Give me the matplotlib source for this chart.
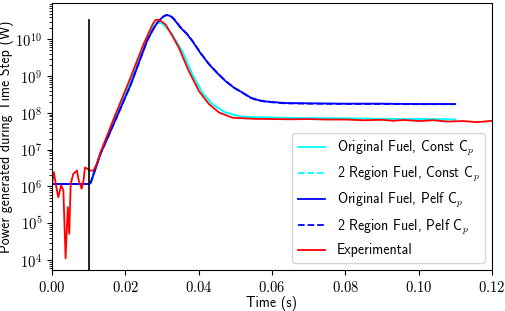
import math
import matplotlib
matplotlib.use("Agg")
from matplotlib import pyplot as plt
from matplotlib.ticker import FuncFormatter, LogLocator, NullFormatter

plt.rcParams['mathtext.fontset'] = 'cm'
plt.rcParams['axes.unicode_minus'] = False

# time (s) and power (W)
t_pelf = [0.0, 0.0102, 0.0106, 0.0132, 0.0168, 0.0214, 0.0259, 0.0275, 0.0287, 0.0297,
          0.0305, 0.0312, 0.0320, 0.0328, 0.0337, 0.0350, 0.0369, 0.0383, 0.0405, 0.0428,
          0.0451, 0.0474, 0.0497, 0.0520, 0.0542, 0.0561, 0.0584, 0.0634, 0.070, 0.080,
          0.090, 0.100, 0.110]
p_pelf_orig = [1.17e6, 1.17e6, 1.3e6, 7.6e6, 4.9e7, 5.6e8, 8.9e9, 1.8e10, 2.8e10, 3.6e10,
               4.2e10, 4.5e10, 4.4e10, 3.9e10, 3.1e10, 2.1e10, 1.35e10, 8.9e9, 4.2e9, 2.1e9,
               1.2e9, 7.2e8, 4.8e8, 3.55e8, 2.6e8, 2.24e8, 2.04e8, 1.86e8, 1.82e8, 1.78e8,
               1.78e8, 1.74e8, 1.74e8]
p_pelf_2reg = [1.17e6, 1.17e6, 1.3e6, 7.6e6, 4.9e7, 5.6e8, 8.9e9, 1.8e10, 2.8e10, 3.65e10,
               4.25e10, 4.6e10, 4.5e10, 4.0e10, 3.2e10, 2.15e10, 1.38e10, 9.1e9, 4.3e9, 2.15e9,
               1.22e9, 7.3e8, 4.8e8, 3.5e8, 2.55e8, 2.2e8, 2.0e8, 1.82e8, 1.78e8, 1.75e8,
               1.74e8, 1.72e8, 1.72e8]

t_const = [0.0, 0.0102, 0.0106, 0.0132, 0.0168, 0.0214, 0.0259, 0.0270, 0.0278, 0.0285,
           0.0292, 0.0300, 0.0310, 0.0325, 0.0340, 0.0355, 0.0383, 0.0410, 0.0437, 0.0474,
           0.0520, 0.0574, 0.065, 0.080, 0.090, 0.100, 0.110]
p_const_orig = [1.17e6, 1.17e6, 1.3e6, 8.0e6, 5.6e7, 7.0e8, 9.5e9, 1.7e10, 2.35e10, 2.75e10,
                2.85e10, 2.7e10, 2.25e10, 1.5e10, 8.5e9, 4.8e9, 1.12e9, 3.55e8, 1.74e8, 1.02e8,
                7.8e7, 7.6e7, 7.3e7, 7.1e7, 6.9e7, 6.8e7, 6.6e7]
p_const_2reg = [1.17e6, 1.17e6, 1.3e6, 8.0e6, 5.6e7, 7.0e8, 9.5e9, 1.7e10, 2.3e10, 2.7e10,
                2.8e10, 2.65e10, 2.2e10, 1.48e10, 8.4e9, 4.7e9, 1.1e9, 3.5e8, 1.72e8, 1.0e8,
                7.7e7, 7.5e7, 7.2e7, 7.0e7, 6.9e7, 6.8e7, 6.6e7]

t_exp = [0.0, 0.0005, 0.0011, 0.0017, 0.0025, 0.0031, 0.0037, 0.0043, 0.0047, 0.0051,
         0.0058, 0.0068, 0.0073, 0.0081, 0.0086, 0.0090, 0.0097, 0.0104, 0.0113, 0.0122,
         0.0132, 0.0168, 0.0214, 0.0250, 0.0265, 0.0275, 0.0282, 0.0290, 0.0298, 0.0310,
         0.0328, 0.0346, 0.0373, 0.0401, 0.0428, 0.0456, 0.0492, 0.055, 0.060, 0.065,
         0.070, 0.075, 0.080, 0.085, 0.090, 0.093, 0.096, 0.100, 0.104, 0.108,
         0.112, 0.116, 0.1185, 0.120]
p_exp = [1.2e6, 2.45e6, 1.07e6, 5.1e5, 1.07e6, 7.8e5, 1.12e4, 2.75e5, 5.2e4, 1.17e6,
         2.2e6, 2.7e6, 1.45e6, 8.7e5, 1.45e6, 3.3e6, 3.0e6, 2.7e6, 2.7e6, 4.1e6,
         8.3e6, 6.8e7, 9.0e8, 7.5e9, 1.6e10, 2.6e10, 3.3e10, 3.4e10, 3.1e10, 2.5e10,
         1.25e10, 5.9e9, 1.38e9, 3.9e8, 1.74e8, 1.02e8, 7.4e7, 6.9e7, 6.8e7, 6.7e7,
         6.8e7, 6.6e7, 6.6e7, 6.3e7, 6.5e7, 6.1e7, 6.4e7, 6.0e7, 6.3e7, 5.8e7,
         6.0e7, 5.6e7, 5.9e7, 6.1e7]

fig = plt.figure(figsize=(5.05, 3.11), dpi=100)
ax = fig.add_axes([0.103, 0.132, 0.871, 0.859])

lw = 1.3
ax.plot(t_const, p_const_orig, color='cyan', lw=lw, label='Original Fuel, Const C$_p$')
ax.plot(t_const, p_const_2reg, color='cyan', lw=lw, ls='--', label='2 Region Fuel, Const C$_p$')
ax.plot(t_pelf, p_pelf_orig, color='blue', lw=lw, label='Original Fuel, Pelf C$_p$')
ax.plot(t_pelf, p_pelf_2reg, color='blue', lw=lw, ls='--', label='2 Region Fuel, Pelf C$_p$')
ax.plot(t_exp, p_exp, color='red', lw=lw, label='Experimental')
# start of transient
ax.plot([0.01, 0.01], [1e3, 3.3e10], color='black', lw=1.2)

ax.set_yscale('log')
ax.set_xlim(0, 0.12)
ax.set_ylim(5.4e3, 9.8e10)

ax.yaxis.set_major_locator(LogLocator(base=10, numticks=20))
ax.yaxis.set_major_formatter(FuncFormatter(lambda v, p: r'$10^{%d}$' % round(math.log10(v))))
ax.yaxis.set_minor_locator(LogLocator(base=10, subs=range(2, 10), numticks=20))
ax.yaxis.set_minor_formatter(NullFormatter())
ax.xaxis.set_major_formatter(FuncFormatter(lambda v, p: r'$%.2f$' % v))
ax.tick_params(labelsize=10.5)

ax.set_xlabel('Time (s)', family='cmss10', fontsize=10, labelpad=1)
ax.set_ylabel('Power generated during Time Step (W)', family='cmss10', fontsize=10, labelpad=1)

ax.legend(loc='lower right', prop={'family': 'cmss10', 'size': 10})

fig.savefig('out.png', dpi=100)
